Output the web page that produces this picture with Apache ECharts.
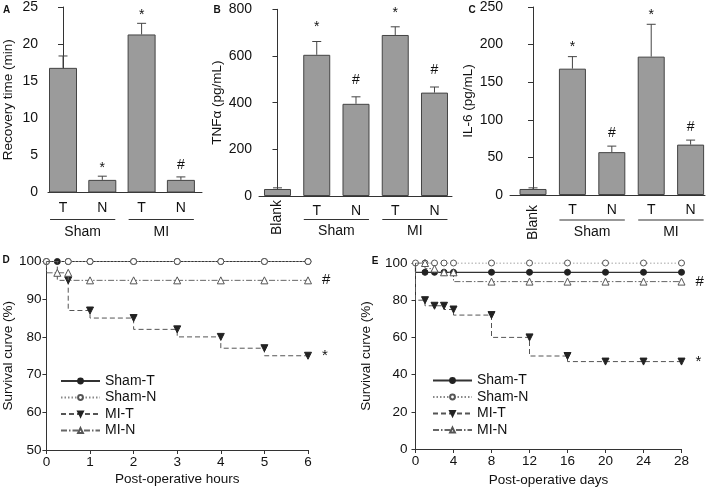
<!DOCTYPE html>
<html><head><meta charset="utf-8">
<script src="https://cdn.jsdelivr.net/npm/echarts@6/dist/echarts.min.js"></script>
<style>html,body{margin:0;padding:0;background:#fff}#c{width:709px;height:488px}</style>
</head><body><div id="c"></div>
<script>
// ---------- DATA ----------
// Panel A
const aCategories = ['T', 'N', 'T', 'N'];
const aValues = [16.8, 1.7, 21.3, 1.7];
const aErrors = [1.6, 0.5, 1.5, 0.4];
const aMarks = ['', '*', '*', '#'];
const aGroups = ['Sham', 'MI'];
const aGroupSpans = [[0, 1], [2, 3]];
const aYAxis = { min: 0, max: 25, interval: 5 };
const aTitle = 'Recovery time (min)';
// Panel B
const bCategories = ['Blank', 'T', 'N', 'T', 'N'];
const bValues = [30, 605, 395, 690, 443];
const bErrors = [5, 57, 30, 35, 24];
const bMarks = ['', '*', '#', '*', '#'];
const bGroups = ['Sham', 'MI'];
const bGroupSpans = [[1, 2], [3, 4]];
const bYAxis = { min: 0, max: 800, interval: 200 };
const bTitle = 'TNFα (pg/mL)';
// Panel C
const cCategories = ['Blank', 'T', 'N', 'T', 'N'];
const cValues = [8, 168, 57, 184, 67];
const cErrors = [1.5, 16, 8, 43, 6];
const cMarks = ['', '*', '#', '*', '#'];
const cGroups = ['Sham', 'MI'];
const cGroupSpans = [[1, 2], [3, 4]];
const cYAxis = { min: 0, max: 250, interval: 50 };
const cTitle = 'IL-6 (pg/mL)';
// Panel D (hours)
const seriesNames = ['Sham-T', 'Sham-N', 'MI-T', 'MI-N'];
const dShamTx = [0, 0.25, 0.5, 1, 2, 3, 4, 5, 6];
const dShamTy = [100, 100, 100, 100, 100, 100, 100, 100, 100];
const dShamNx = [0, 0.5, 1, 2, 3, 4, 5, 6];
const dShamNy = [100, 100, 100, 100, 100, 100, 100, 100];
const dMiTx = [0, 0.25, 0.5, 1, 2, 3, 4, 5, 6];
const dMiTy = [100, 100, 95, 87, 85, 82, 80, 77, 75];
const dMiTHidden = [0, 1];
const dMiNx = [0, 0.25, 0.5, 1, 2, 3, 4, 5, 6];
const dMiNy = [100, 97, 97, 95, 95, 95, 95, 95, 95];
const dMiNHidden = [0];
const dMarks = { 'MI-T': '*', 'MI-N': '#' };
const dXAxis = { min: 0, max: 6, interval: 1 };
const dYAxis = { min: 50, max: 100, interval: 10 };
const dXTitle = 'Post-operative hours';
// Panel E (days)
const eShamTx = [0, 1, 2, 3, 4, 8, 12, 16, 20, 24, 28];
const eShamTy = [100, 95, 95, 95, 95, 95, 95, 95, 95, 95, 95];
const eShamNx = [0, 1, 2, 3, 4, 8, 12, 16, 20, 24, 28];
const eShamNy = [100, 100, 100, 100, 100, 100, 100, 100, 100, 100, 100];
const eMiTx = [0, 1, 2, 3, 4, 8, 12, 16, 20, 24, 28];
const eMiTy = [100, 80, 77, 77, 75, 72, 60, 50, 47, 47, 47];
const eMiNx = [0, 1, 2, 3, 4, 8, 12, 16, 20, 24, 28];
const eMiNy = [100, 100, 97, 95, 95, 90, 90, 90, 90, 90, 90];
const eMarks = { 'MI-T': '*', 'MI-N': '#' };
const eXAxis = { min: 0, max: 28, interval: 4 };
const eYAxis = { min: 0, max: 100, interval: 20 };
const eXTitle = 'Post-operative days';
const yTitleSurvival = 'Survival curve (%)';
const panelLetters = ['A', 'B', 'C', 'D', 'E'];

// ---------- STYLE / LAYOUT ----------
const FONT = '"Liberation Sans", Arial, Helvetica, sans-serif';
const AX = '#333';
const TXT = '#111';
const BAR = '#9b9b9b';

const chart = echarts.init(document.getElementById('c'), null, { renderer: 'canvas' });

const grids = [];
const xAxes = [];
const yAxes = [];
const series = [];

function addBarPanel(p) {
  const gi = grids.length;
  grids.push(p.grid);
  const xi = xAxes.length;
  xAxes.push({
    gridIndex: gi, type: 'value', min: p.xmin, max: p.xmax,
    axisLine: { show: true, lineStyle: { color: AX, width: 1 } },
    axisTick: { show: false }, splitLine: { show: false },
    axisLabel: {
      customValues: p.cats.map((c, i) => i),
      formatter: v => { const c = p.cats[Math.round(v)]; return c === 'Blank' ? '' : c; },
      margin: 8.5, fontSize: 14, color: TXT, fontFamily: FONT
    }
  });
  const blankIdx = p.cats.indexOf('Blank');
  if (blankIdx >= 0) {
    xAxes.push({
      gridIndex: gi, type: 'value', min: p.xmin, max: p.xmax, position: 'bottom',
      axisLine: { show: false }, axisTick: { show: false }, splitLine: { show: false },
      axisLabel: {
        customValues: [blankIdx], formatter: () => p.cats[blankIdx], rotate: 90,
        margin: p.blankMargin, fontSize: 14, color: TXT, fontFamily: FONT
      }
    });
  }
  const yi = yAxes.length;
  yAxes.push({
    gridIndex: gi, type: 'value', min: p.y.min, max: p.y.max, interval: p.y.interval,
    name: p.title, nameLocation: 'middle', nameGap: p.nameGap,
    nameTextStyle: { fontSize: 13.5, color: TXT, fontFamily: FONT },
    axisLine: { show: true, lineStyle: { color: AX, width: 1 } },
    axisTick: { show: true, length: 5, lineStyle: { color: AX } },
    splitLine: { show: false },
    axisLabel: { margin: p.labelMargin, fontSize: 14, color: TXT, fontFamily: FONT }
  });
  series.push({
    type: 'bar', xAxisIndex: xi, yAxisIndex: yi, barWidth: p.barWidth,
    itemStyle: { color: BAR, borderColor: '#444', borderWidth: 1 },
    data: p.values.map((v, i) => [i, v]), animation: false, silent: true
  });
  series.push({
    type: 'custom', xAxisIndex: xi, yAxisIndex: yi, z: 5, silent: true, animation: false,
    data: p.values.map((v, i) => [i, v, p.errors[i]]),
    renderItem: (params, api) => {
      const i = params.dataIndex;
      const x = api.value(0), v = api.value(1), e = api.value(2);
      const b = api.coord([x, v]);
      const t = api.coord([x, v + e]);
      const ch = [
        { type: 'line', shape: { x1: b[0], y1: b[1], x2: t[0], y2: t[1] }, style: { stroke: '#444', lineWidth: 1 } },
        { type: 'line', shape: { x1: t[0] - 4.5, y1: t[1], x2: t[0] + 4.5, y2: t[1] }, style: { stroke: '#444', lineWidth: 1 } }
      ];
      const m = p.marks[i];
      if (m) {
        const g = p.markGap - (m === '*' ? 3 : 0);
        ch.push({ type: 'text', x: t[0], y: t[1] - g,
          style: { text: m, fill: TXT, fontSize: 14, fontFamily: FONT, align: 'center', verticalAlign: 'middle' } });
      }
      return { type: 'group', children: ch };
    }
  });
  return { xi, yi };
}

const A = addBarPanel({ grid: { left: 48, top: 5.5, width: 154, height: 187 }, xmin: -0.382, xmax: 3.537,
  cats: aCategories, values: aValues, errors: aErrors, marks: aMarks, y: aYAxis, title: aTitle,
  nameGap: 33, labelMargin: 10, barWidth: 28, markGap: 11.5 });
const B = addBarPanel({ grid: { left: 259, top: 9.3, width: 193, height: 186.7 }, xmin: -0.471, xmax: 4.446,
  cats: bCategories, values: bValues, errors: bErrors, marks: bMarks, y: bYAxis, title: bTitle,
  nameGap: 29, labelMargin: 7, barWidth: 27, markGap: 17, blankMargin: 4 });
const C = addBarPanel({ grid: { left: 510, top: 6.7, width: 195, height: 188.3 }, xmin: -0.584, xmax: 4.365,
  cats: cCategories, values: cValues, errors: cErrors, marks: cMarks, y: cYAxis, title: cTitle,
  nameGap: 31, labelMargin: 7, barWidth: 27, markGap: 12.5, blankMargin: 10 });

const lineStyles = {
  'Sham-T': { line: { color: '#333', width: 1.2, type: 'solid' }, symbol: 'circle', size: 6, item: { color: '#222', borderColor: '#222', borderWidth: 1 }, z: 2 },
  'Sham-N': { line: { color: '#888', width: 1, type: [1.5, 2] }, symbol: 'circle', size: 6, item: { color: '#fff', borderColor: '#555', borderWidth: 1 }, z: 3 },
  'MI-T':   { line: { color: '#555', width: 1, type: [5, 3] }, symbol: 'triangle', rotate: 180, size: 7, item: { color: '#222', borderColor: '#222', borderWidth: 1 }, z: 4 },
  'MI-N':   { line: { color: '#666', width: 1, type: [6, 2, 1.5, 2] }, symbol: 'triangle', size: 7, item: { color: '#fff', borderColor: '#555', borderWidth: 1 }, z: 5 }
};

function addLinePanel(p) {
  const gi = grids.length;
  grids.push(p.grid);
  const xi = xAxes.length;
  xAxes.push({
    gridIndex: gi, type: 'value', min: p.x.min, max: p.x.max, interval: p.x.interval,
    name: p.xTitle, nameLocation: 'middle', nameGap: p.xNameGap,
    nameTextStyle: { fontSize: 13.5, color: TXT, fontFamily: FONT },
    axisLine: { show: true, onZero: false, lineStyle: { color: AX, width: 1 } },
    axisTick: { show: true, length: 4, lineStyle: { color: AX } }, splitLine: { show: false },
    axisLabel: { margin: 5, fontSize: 13.5, color: TXT, fontFamily: FONT }
  });
  const yi = yAxes.length;
  yAxes.push({
    gridIndex: gi, type: 'value', min: p.y.min, max: p.y.max, interval: p.y.interval,
    name: yTitleSurvival, nameLocation: 'middle', nameGap: p.yNameGap,
    nameTextStyle: { fontSize: 13.5, color: TXT, fontFamily: FONT },
    axisLine: { show: true, onZero: false, lineStyle: { color: AX, width: 1 } },
    axisTick: { show: true, length: 4, lineStyle: { color: AX } }, splitLine: { show: false },
    axisLabel: { margin: p.yLabelMargin, fontSize: 13.5, color: TXT, fontFamily: FONT }
  });
  p.lines.forEach(l => {
    const st = lineStyles[l.name];
    const hidden = l.hidden || [];
    const data = l.xs.map((x, i) => {
      const it = { value: [x, l.ys[i]] };
      if (hidden.indexOf(i) >= 0) it.symbol = 'none';
      if (i === l.xs.length - 1 && p.marks[l.name]) {
        it.label = { show: true, position: 'right', distance: 10, formatter: p.marks[l.name],
          fontSize: 15, color: TXT, fontFamily: FONT };
      }
      return it;
    });
    series.push({
      type: 'line', name: l.name, xAxisIndex: xi, yAxisIndex: yi, step: 'start',
      symbol: st.symbol, symbolSize: st.size, symbolRotate: st.rotate || 0, showAllSymbol: true,
      lineStyle: st.line, itemStyle: st.item, z: st.z, data, animation: false, silent: true,
      emphasis: { disabled: true }
    });
  });
}

addLinePanel({ grid: { left: 44, top: 261.5, width: 264, height: 188.5 }, x: dXAxis, y: dYAxis,
  xTitle: dXTitle, xNameGap: 22, yNameGap: 30, yLabelMargin: 5, marks: dMarks,
  lines: [
    { name: 'Sham-T', xs: dShamTx, ys: dShamTy },
    { name: 'Sham-N', xs: dShamNx, ys: dShamNy },
    { name: 'MI-T', xs: dMiTx, ys: dMiTy, hidden: dMiTHidden },
    { name: 'MI-N', xs: dMiNx, ys: dMiNy, hidden: dMiNHidden }
  ] });
addLinePanel({ grid: { left: 415.5, top: 263, width: 266, height: 186 }, x: eXAxis, y: eYAxis,
  xTitle: eXTitle, xNameGap: 24, yNameGap: 42, yLabelMargin: 8, marks: eMarks,
  lines: [
    { name: 'Sham-T', xs: eShamTx, ys: eShamTy, hidden: [0] },
    { name: 'Sham-N', xs: eShamNx, ys: eShamNy },
    { name: 'MI-T', xs: eMiTx, ys: eMiTy, hidden: [0] },
    { name: 'MI-N', xs: eMiNx, ys: eMiNy, hidden: [0] }
  ] });

const legendCommon = { data: seriesNames, orient: 'vertical', itemHeight: 6, itemGap: 2.5,
  selectedMode: false, textStyle: { fontSize: 14, color: TXT, fontFamily: FONT } };

chart.setOption({
  animation: false,
  grid: grids, xAxis: xAxes, yAxis: yAxes, series,
  legend: [
    Object.assign({}, legendCommon, { left: 55, top: 369, itemWidth: 39 }),
    Object.assign({}, legendCommon, { left: 427, top: 368.5, itemWidth: 39 })
  ]
});

// group brackets and labels, placed through axis scales
const gfx = [];
function addGroups(ax, spans, names, lineOff, labelOff) {
  const y0 = chart.convertToPixel({ yAxisIndex: ax.yi }, 0);
  spans.forEach((s, k) => {
    const x1 = chart.convertToPixel({ xAxisIndex: ax.xi }, s[0] - 0.33);
    const x2 = chart.convertToPixel({ xAxisIndex: ax.xi }, s[1] + 0.33);
    gfx.push({ type: 'line', shape: { x1, y1: y0 + lineOff, x2, y2: y0 + lineOff }, style: { stroke: '#333', lineWidth: 1.2 } });
    gfx.push({ type: 'text', x: (x1 + x2) / 2, y: y0 + labelOff,
      style: { text: names[k], fill: TXT, fontSize: 14, fontFamily: FONT, align: 'center', verticalAlign: 'middle' } });
  });
}
addGroups(A, aGroupSpans, aGroups, 27, 39.5);
addGroups(B, bGroupSpans, bGroups, 23.5, 35.5);
addGroups(C, cGroupSpans, cGroups, 25, 37);

const letterPos = [[6.5, 10], [217, 10], [472, 10], [6, 260], [375, 261]];
panelLetters.forEach((t, i) => {
  gfx.push({ type: 'text', x: letterPos[i][0], y: letterPos[i][1],
    style: { text: t, fill: TXT, fontSize: 10, fontWeight: 'bold', fontFamily: FONT, align: 'center', verticalAlign: 'middle' } });
});
chart.setOption({ graphic: gfx });
</script>
</body></html>
